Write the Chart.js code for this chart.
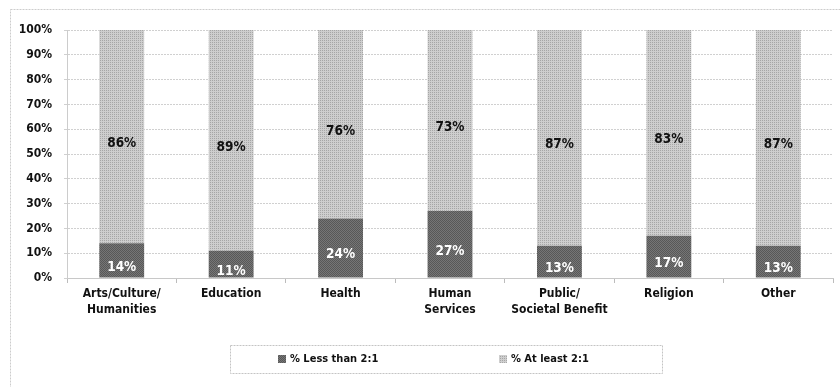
<!DOCTYPE html>
<html>
<head>
<meta charset="utf-8">
<title>Ratio by subsector</title>
<script src="https://cdn.jsdelivr.net/npm/chart.js@4/dist/chart.umd.min.js"></script>
<style>
  html, body { margin: 0; padding: 0; background: #fff; }
  #wrap { position: relative; width: 840px; height: 387px; }
</style>
</head>
<body>
<div id="wrap"><canvas id="chart"></canvas></div>
<script>
const categories = [['Arts/Culture/', 'Humanities'], 'Education', 'Health', ['Human', 'Services'], ['Public/', 'Societal Benefit'], 'Religion', 'Other'];
const lessThan = [14, 11, 24, 27, 13, 17, 13];
const atLeast = [86, 89, 76, 73, 87, 83, 87];
const seriesNames = ['% Less than 2:1', '% At least 2:1'];
const yTickStep = 10;
const yMax = 100;

const FONT = '"DejaVu Sans Condensed", "Liberation Sans", sans-serif';

// small repeating tiles for the textured bar fills
function makePattern(base, mark, size, cells) {
    const c = document.createElement('canvas');
    c.width = c.height = size;
    const g = c.getContext('2d');
    g.fillStyle = base;
    g.fillRect(0, 0, size, size);
    g.fillStyle = mark;
    cells.forEach(([x, y]) => g.fillRect(x, y, 1, 1));
    return g.createPattern(c, 'repeat');
}
const darkFill = makePattern('#767676', '#585858', 2, [[0, 0], [1, 1]]);
const lightFill = makePattern('#cecece', '#a6a6a6', 2, [[0, 0]]);

// outer frame of the chart
const frame = {
    id: 'frame',
    beforeDraw(chart) {
        const ctx = chart.ctx;
        ctx.save();
        ctx.strokeStyle = '#cccccc';
        ctx.lineWidth = 1;
        ctx.setLineDash([2, 1]);
        ctx.strokeRect(10.5, 9.5, 900, 500);
        ctx.restore();
    }
};

// value labels inside each segment
const barLabels = {
    id: 'barLabels',
    afterDatasetsDraw(chart) {
        const ctx = chart.ctx;
        ctx.save();
        ctx.font = 'bold 13.5px ' + FONT;
        ctx.textAlign = 'center';
        ctx.textBaseline = 'middle';
        chart.data.datasets.forEach((ds, i) => {
            chart.getDatasetMeta(i).data.forEach((bar, j) => {
                const mid = (bar.y + bar.base) / 2;
                ctx.fillStyle = ds.labelColor;
                ctx.fillText(ds.data[j] + '%', bar.x, mid + 7);
            });
        });
        ctx.restore();
    }
};

// boxed legend below the axis
const boxLegend = {
    id: 'boxLegend',
    afterDraw(chart) {
        const ctx = chart.ctx;
        const area = chart.chartArea;
        const cx = (area.left + area.right) / 2 - 4;
        const half = 216;
        const top = area.bottom + 67;
        const h = 28;
        ctx.save();
        ctx.strokeStyle = '#c4c4c4';
        ctx.lineWidth = 1;
        ctx.setLineDash([2, 1]);
        ctx.strokeRect(Math.round(cx - half) + 0.5, top + 0.5, half * 2, h);
        ctx.setLineDash([]);
        ctx.font = 'bold 11px ' + FONT;
        ctx.textBaseline = 'middle';
        const midY = top + h / 2;
        chart.data.datasets.forEach((ds, i) => {
            const tw = ctx.measureText(ds.label).width;
            const itemW = 8 + 4 + tw;
            const slotCenter = cx - half + half / 2 + i * half;
            const x0 = Math.round(slotCenter - itemW / 2 - 10);
            ctx.fillStyle = ds.backgroundColor;
            ctx.fillRect(x0, Math.round(midY - 4), 8, 8);
            ctx.fillStyle = '#111';
            ctx.fillText(ds.label, x0 + 12, midY);
        });
        ctx.restore();
    }
};

new Chart(document.getElementById('chart'), {
    type: 'bar',
    data: {
        labels: categories,
        datasets: [
            { label: seriesNames[0], data: lessThan, backgroundColor: darkFill, labelColor: '#ffffff',
              categoryPercentage: 1, barPercentage: 0.41 },
            { label: seriesNames[1], data: atLeast, backgroundColor: lightFill, labelColor: '#111111',
              categoryPercentage: 1, barPercentage: 0.41 }
        ]
    },
    options: {
        responsive: true,
        maintainAspectRatio: false,
        animation: false,
        devicePixelRatio: 1,
        layout: { padding: { top: 30, left: 10, right: 7, bottom: 0 } },
        plugins: { legend: { display: false }, tooltip: { enabled: false } },
        scales: {
            x: {
                stacked: true,
                afterFit: (axis) => { axis.height = 109; },
                grid: { drawOnChartArea: false, drawTicks: true, tickLength: 5, color: '#bcbcbc' },
                border: { display: true, color: '#c8c8c8' },
                ticks: { color: '#111', padding: 3, maxRotation: 0, autoSkip: false,
                         font: { family: FONT, size: 12, weight: 'bold', lineHeight: 1.35 } }
            },
            y: {
                stacked: true,
                min: 0,
                max: yMax,
                afterFit: (axis) => { axis.width = 57; },
                grid: { color: '#d0d0d0', tickLength: 3 },
                border: { display: true, color: '#cccccc', dash: [2, 1] },
                ticks: { stepSize: yTickStep, color: '#111', padding: 12,
                         font: { family: FONT, size: 12, weight: 'bold' },
                         callback: (v) => v + '%' }
            }
        }
    },
    plugins: [frame, barLabels, boxLegend]
});
</script>
</body>
</html>
